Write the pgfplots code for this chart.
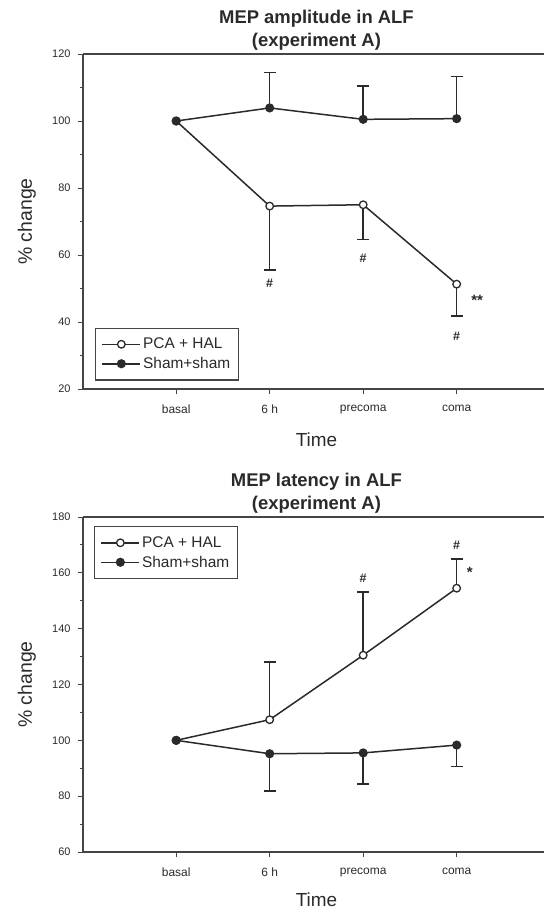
\documentclass[border=0pt]{standalone}
\usepackage{fontspec}
\setmainfont{Liberation Sans}
\usepackage{pgfplots}
\pgfplotsset{compat=1.18}

\definecolor{ink}{HTML}{2A2A2A}
\definecolor{frame}{HTML}{454545}

\tikzset{note/.style={font=\bfseries\fontsize{12.5}{14}\selectfont, text=ink}}

\pgfplotsset{
  mepaxis/.style={
    scale only axis, width=461.3bp, height=335bp,
    xmin=0, xmax=4.934,
    xtick={1,2,3,4}, xticklabels={basal,6 h,precoma,coma},
    axis lines*=left,
    axis line style={frame, line width=1.6bp},
    tick align=outside, major tick length=5bp, minor tick length=3bp,
    tick style={frame, line width=1bp},
    minor y tick num=1,
    /pgf/number format/assume math mode=true,
    ticklabel style={font=\fontsize{11}{13}\selectfont, text=ink},
    yticklabel style={anchor=east, inner sep=0pt, xshift=-7bp},
    xticklabel style={anchor=north, inner sep=0pt, yshift=-11bp,
      font=\fontsize{12}{14}\selectfont},
    title style={font=\bfseries\fontsize{18.5}{22.3}\selectfont, text=ink, align=center,
      at={(axis description cs:0.5067,1)}, anchor=south, inner sep=0pt, yshift=-2bp},
    xlabel={Time},
    xlabel style={font=\fontsize{19}{22}\selectfont, text=ink,
      at={(axis description cs:0.5067,0)}, anchor=base, yshift=-57.7bp},
    ylabel={\% change},
    ylabel style={font=\fontsize{19.5}{23}\selectfont, text=ink,
      at={(axis description cs:-0.11,0.5)}, anchor=base},
    legend style={draw=frame, line width=1.2bp, fill=white,
      font=\fontsize{15.5}{17}\selectfont, text=ink,
      inner xsep=6bp, inner ysep=8bp, row sep=3bp,
      nodes={inner sep=2bp}, cells={anchor=west}},
    legend image code/.code={\draw[#1, mark repeat=2, mark phase=2]
      plot coordinates {(0bp,0bp) (19bp,0bp) (38bp,0bp)};},
    /tikz/every even column/.append style={column sep=10bp},
    clip=false,
  },
  pca/.style={ink, line width=1.5bp, mark=*, mark size=3.8bp,
    mark options={fill=white, line width=1.3bp}},
  sham/.style={ink, line width=1.5bp, mark=*, mark size=3.8bp,
    mark options={fill=ink}},
  sdup/.style={draw=none, mark=none, forget plot,
    error bars/.cd, y dir=plus, y explicit,
    error bar style={draw=ink, line width=1.4bp},
    error mark options={draw=ink, rotate=90, mark size=6bp, line width=1.4bp}},
  sddown/.style={draw=none, mark=none, forget plot,
    error bars/.cd, y dir=minus, y explicit,
    error bar style={draw=ink, line width=1.4bp},
    error mark options={draw=ink, rotate=90, mark size=6bp, line width=1.4bp}},
}

\begin{document}
\begin{tikzpicture}
\path[use as bounding box] (0,0) rectangle (544bp,-910bp);

% Amplitude
\begin{axis}[mepaxis,
  at={(82.7bp,-389bp)}, anchor=south west,
  ymin=20, ymax=120, ytick={20,40,60,80,100,120},
  title={MEP amplitude in ALF\\(experiment A)},
  legend style={at={(rel axis cs:0.0267,0.0248)}, anchor=south west},
]
  \addplot[sddown] coordinates {(2,74.6) +- (0,19.1) (3,75.0) +- (0,10.4) (4,51.3) +- (0,9.5)};
  \addplot[sdup] coordinates {(2,103.9) +- (0,10.6) (3,100.5) +- (0,9.9) (4,100.7) +- (0,12.6)};
  \addplot[pca] coordinates {(1,100) (2,74.6) (3,75.0) (4,51.3)};
  \addplot[sham] coordinates {(1,100) (2,103.9) (3,100.5) (4,100.7)};
  \legend{PCA + HAL, Sham+sham}
  \draw[frame, line width=1.6bp] (rel axis cs:0,1) -- (rel axis cs:1,1);
  \node[note] at (axis cs:2,51.6) {\#};
  \node[note] at (axis cs:3,59.0) {\#};
  \node[note] at (axis cs:4,35.6) {\#};
  \node[note, font=\bfseries\fontsize{15}{16}\selectfont] at (axis cs:4.22,46.5) {**};
\end{axis}

% Latency
\begin{axis}[mepaxis,
  at={(82.7bp,-852bp)}, anchor=south west,
  ymin=60, ymax=180, ytick={60,80,100,120,140,160,180},
  title={MEP latency in ALF\\(experiment A)},
  xlabel style={yshift=3bp},
  legend style={at={(rel axis cs:0.0245,0.973)}, anchor=north west},
]
  \addplot[sdup] coordinates {(2,107.4) +- (0,20.7) (3,130.5) +- (0,22.7) (4,154.5) +- (0,10.5)};
  \addplot[sddown] coordinates {(2,95.2) +- (0,13.4) (3,95.5) +- (0,11.1) (4,98.3) +- (0,7.6)};
  \addplot[pca] coordinates {(1,100) (2,107.4) (3,130.5) (4,154.5)};
  \addplot[sham] coordinates {(1,100) (2,95.2) (3,95.5) (4,98.3)};
  \legend{PCA + HAL, Sham+sham}
  \draw[frame, line width=1.6bp] (rel axis cs:0,1) -- (rel axis cs:1,1);
  \node[note] at (axis cs:3,158.2) {\#};
  \node[note] at (axis cs:4,170.0) {\#};
  \node[note, font=\bfseries\fontsize{15}{16}\selectfont] at (axis cs:4.14,160.3) {*};
\end{axis}
\end{tikzpicture}
\end{document}
